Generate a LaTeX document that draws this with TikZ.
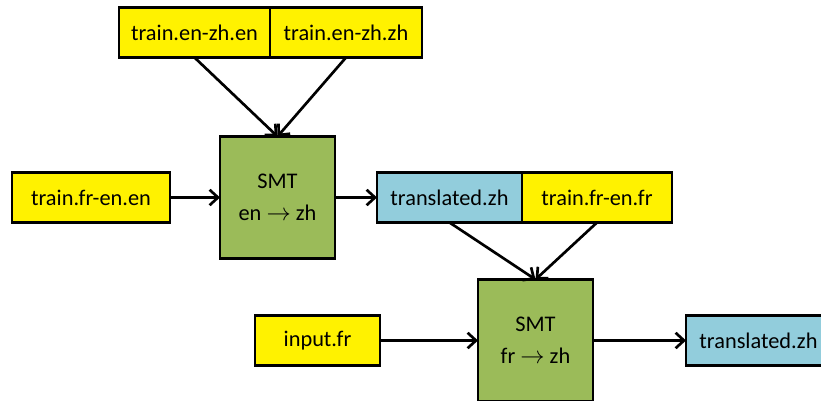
\documentclass[tikz,border=0pt]{standalone}
\usepackage{fontspec}
\setmainfont{Carlito}
\usetikzlibrary{arrows.meta,positioning}
\definecolor{smtgreen}{HTML}{9BBB59}
\definecolor{outblue}{HTML}{92CDDC}

\begin{document}
\begin{tikzpicture}[
    font=\fontsize{15.9}{23}\selectfont,
    data/.style={draw, line width=2pt, fill=yellow, minimum height=1.25cm, inner sep=2pt, outer sep=0pt},
    outdata/.style={data, fill=outblue},
    smt/.style={draw, line width=2pt, fill=smtgreen, align=center, minimum width=2.875cm, minimum height=3.05cm, outer sep=0pt},
    arr/.style={-{Straight Barb[length=6pt,width=11pt]}, line width=1.9pt},
  ]
    \useasboundingbox (0,0) rectangle (20.525,-10.025);

    \node[data, minimum width=3.95cm] (frenEn) at (2.275,-4.9375) {train.fr-en.en};
    \node[smt, right=1.25cm of frenEn] (smtEnZh) {SMT\\en $\rightarrow$ zh};
    \node[outdata, minimum width=3.625cm, right=1.05cm of smtEnZh] (transZh) {translated.zh};
    \node[data, minimum width=3.75cm, right=0pt of transZh] (frenFr) {train.fr-en.fr};
    \node[data, minimum width=3.775cm, above left=1.975cm and 0.1875cm of smtEnZh.north] (enzhEn) {train.en-zh.en};
    \node[data, minimum width=3.8cm, right=0pt of enzhEn] (enzhZh) {train.en-zh.zh};
    \node[smt, below=1.425cm of transZh.south east, xshift=0.3375cm] (smtFrZh) {SMT\\fr $\rightarrow$ zh};
    \node[data, minimum width=3.125cm, left=2.45cm of smtFrZh] (inputFr) {input.fr};
    \node[outdata, minimum width=3.625cm, right=2.325cm of smtFrZh] (transOut) {translated.zh};

    \draw[arr] (enzhEn.south) -- (smtEnZh.north);
    \draw[arr] (enzhZh.south) -- (smtEnZh.north);
    \draw[arr] (frenEn) -- (smtEnZh);
    \draw[arr] (smtEnZh) -- (transZh);
    \draw[arr] (transZh.south) -- (smtFrZh.north);
    \draw[arr] (frenFr.south) -- (smtFrZh.north);
    \draw[arr] (inputFr) -- (smtFrZh);
    \draw[arr] (smtFrZh) -- (transOut);
  \end{tikzpicture}
\end{document}
